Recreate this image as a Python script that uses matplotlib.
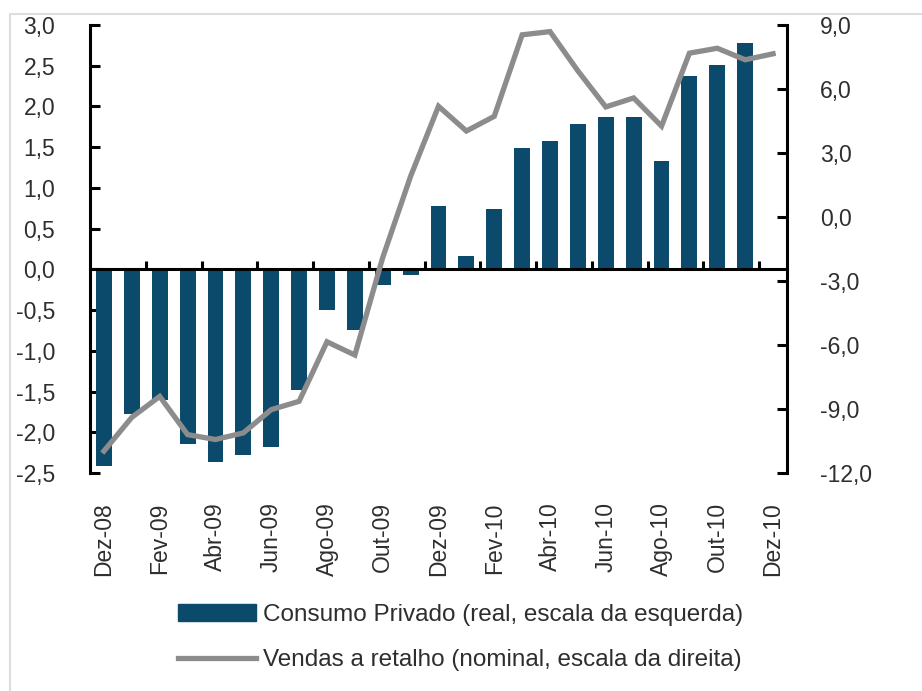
import numpy as np
import matplotlib
matplotlib.use('Agg')
import matplotlib.pyplot as plt
from matplotlib.patches import Rectangle

plt.rcParams['font.family'] = ['Liberation Sans', 'DejaVu Sans']

# dados (taxa de variacao homologa, %)
meses = ['Dez-08', 'Jan-09', 'Fev-09', 'Mar-09', 'Abr-09', 'Mai-09', 'Jun-09',
         'Jul-09', 'Ago-09', 'Set-09', 'Out-09', 'Nov-09', 'Dez-09', 'Jan-10',
         'Fev-10', 'Mar-10', 'Abr-10', 'Mai-10', 'Jun-10', 'Jul-10', 'Ago-10',
         'Set-10', 'Out-10', 'Nov-10', 'Dez-10']
consumo = [-2.42, -1.78, -1.60, -2.14, -2.36, -2.28, -2.18, -1.48, -0.50,
           -0.74, -0.19, -0.07, 0.78, 0.16, 0.74, 1.49, 1.57, 1.79, 1.87,
           1.87, 1.33, 2.37, 2.51, 2.78]
vendas = [-10.97, -9.39, -8.41, -10.2, -10.43, -10.12, -9.03, -8.64, -5.85,
          -6.47, -1.9, 1.91, 5.19, 4.03, 4.72, 8.54, 8.69, 6.85, 5.16, 5.58,
          4.26, 7.68, 7.91, 7.37, 7.65]
rotulos = meses[::2]

tick_col = '#2e2e2e'
fs = 16.5


def virgula(v):
    return ('%.1f' % v).replace('.', ',')


fig = plt.figure(figsize=(9.22, 6.91), dpi=100)
ax = fig.add_axes([90 / 922, 1 - 473 / 691, 697 / 922, 448 / 691])

x = np.arange(len(meses))
ax.bar(x[:len(consumo)], consumo, width=0.57, color='#0b4a6b', zorder=2)

ax.set_xlim(-0.5, len(meses) - 0.5)
ax.set_ylim(-2.5, 3.0)
yt = np.arange(-2.5, 3.01, 0.5)
ax.set_yticks(yt)
ax.set_yticklabels([virgula(v) for v in yt])
ax.tick_params(axis='y', direction='in', length=7, width=2.2, pad=25,
               labelsize=fs, labelcolor=tick_col)

for s in ['top', 'right']:
    ax.spines[s].set_visible(False)
ax.spines['left'].set_linewidth(2.2)
ax.spines['bottom'].set_position(('data', 0))
ax.spines['bottom'].set_linewidth(2.2)
ax.spines['bottom'].set_zorder(3)

# tick marks between pairs of months on the zero line
ax.set_xticks([])
ax.set_xticks(x[1:-1:2] + 0.5, minor=True)
ax.tick_params(axis='x', which='minor', direction='in', length=6, width=2.2)

# month labels below the plot
sec = ax.secondary_xaxis('bottom')
sec.set_xticks(x[::2])
sec.set_xticklabels(rotulos, rotation=90)
sec.tick_params(length=0, pad=21, labelsize=fs, labelcolor=tick_col)
sec.spines['bottom'].set_visible(False)

# right axis: retail sales
ax2 = ax.twinx()
ax2.plot(x, vendas, color='#8c8c8c', lw=3.8, solid_joinstyle='miter')
ax2.set_ylim(-12, 9)
yt2 = np.arange(-12, 9.01, 3)
ax2.set_yticks(yt2)
ax2.set_yticklabels([virgula(v) for v in yt2])
ax2.tick_params(axis='y', direction='in', length=7, width=2.2, pad=24,
                labelsize=fs, labelcolor=tick_col)
for s in ['top', 'left', 'bottom']:
    ax2.spines[s].set_visible(False)
ax2.spines['right'].set_linewidth(2.2)

# legend
h1 = Rectangle((0, 0), 1, 1, color='#0b4a6b')
h2, = ax2.plot([], [], color='#8c8c8c', lw=3.8)
fig.legend([h1, h2],
           ['Consumo Privado (real, escala da esquerda)',
            'Vendas a retalho (nominal, escala da direita)'],
           loc='upper left', bbox_to_anchor=(178 / 922, 1 - 604 / 691),
           frameon=False, fontsize=17.5, handlelength=3.2, handleheight=0.65,
           handletextpad=0.3, labelspacing=0.95, borderpad=0, borderaxespad=0,
           labelcolor=tick_col)

# light frame around the chart
fig.patches.append(Rectangle((10 / 922, -0.1), 1.0, 1.1 - 14 / 691,
                             transform=fig.transFigure, fill=False,
                             edgecolor='#dedede', lw=1.5))

fig.savefig('out.png', dpi=100)
